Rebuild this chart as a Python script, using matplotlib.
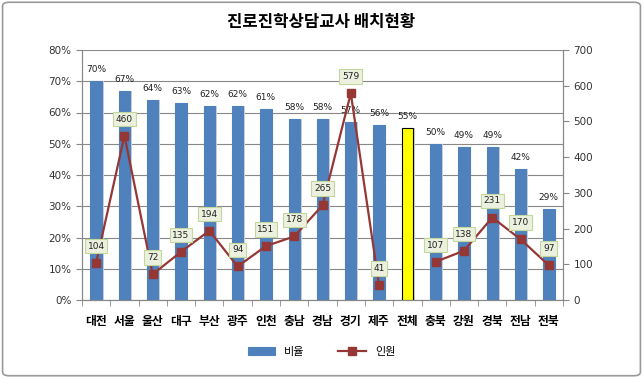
import numpy as np
import matplotlib.pyplot as plt
from matplotlib.patches import FancyBboxPatch

plt.rcParams['font.family'] = ['Noto Sans CJK KR', 'DejaVu Sans']

# dati
regioni = ['대전', '서울', '울산', '대구', '부산', '광주', '인천', '충남', '경남',
           '경기', '제주', '전체', '충북', '강원', '경북', '전남', '전북']
비율 = [70, 67, 64, 63, 62, 62, 61, 58, 58, 57, 56, 55, 50, 49, 49, 42, 29]
인원 = [104, 460, 72, 135, 194, 94, 151, 178, 265, 579, 41, np.nan, 107, 138, 231, 170, 97]

fig = plt.figure(figsize=(6.43, 3.78), dpi=100)
ax = fig.add_axes([82 / 643, 78 / 378, 481 / 643, 250 / 378])
ax2 = ax.twinx()

x = np.arange(len(regioni))
colori = ['#FFFF00' if r == '전체' else '#4F81BD' for r in regioni]
bordi = ['#000000' if r == '전체' else '#4F81BD' for r in regioni]

# ombra delle barre
ax.bar(x + 0.06, 비율, width=0.40, color='#CDD2DA', zorder=2)
ax.bar(x, 비율, width=0.40, color=colori, edgecolor=bordi, linewidth=0.8, zorder=3, label='비율')
for xi, v in zip(x, 비율):
    ax.text(xi, v + 2.2, f'{v}%', ha='center', va='bottom', fontsize=6.5, color='#222222',
            family=['DejaVu Sans'], zorder=6)

ax.set_ylim(0, 80)
ax.set_yticks(np.arange(0, 81, 10))
ax.set_yticklabels([f'{v}%' for v in range(0, 81, 10)], fontsize=7.5, family=['DejaVu Sans'])
ax.set_xlim(-0.5, len(regioni) - 0.5)
ax.set_xticks(x)
ax.set_xticklabels(regioni, fontsize=8.5, fontweight='bold')
ax.set_xticks(np.arange(-0.5, len(regioni)), minor=True)
ax.tick_params(axis='x', which='major', length=0, pad=11)
ax.tick_params(axis='x', which='minor', length=4, color='#888888')
ax.tick_params(axis='y', length=4, color='#888888', labelcolor='#333333')
ax.grid(axis='y', color='#888888', linewidth=0.8, zorder=0)
ax.set_axisbelow(True)
ax.spines['top'].set_visible(False)
for s in ['left', 'right', 'bottom']:
    ax.spines[s].set_color('#888888')

ax2.plot(x, 인원, color='#953735', linewidth=1.6, marker='s', markersize=6,
         markerfacecolor='#953735', zorder=5, label='인원')
for xi, v in zip(x, 인원):
    if np.isnan(v):
        continue
    ax2.annotate(f'{int(v)}', (xi, v), xytext=(0, 12), textcoords='offset points',
                 ha='center', va='center', fontsize=6.5, family=['DejaVu Sans'], color='#222222',
                 bbox=dict(boxstyle='square,pad=0.3', fc='#EBF1DE', ec='#C3D69B', lw=0.8), zorder=7)
ax2.set_ylim(0, 700)
ax2.set_yticks(np.arange(0, 701, 100))
ax2.set_yticklabels([str(v) for v in range(0, 701, 100)], fontsize=7.5, family=['DejaVu Sans'])
ax2.tick_params(axis='y', length=4, color='#888888', labelcolor='#333333')
ax2.spines['top'].set_visible(False)
for s in ['left', 'right', 'bottom']:
    ax2.spines[s].set_color('#888888')

fig.text(0.5, 1 - 22 / 378, '진로진학상담교사 배치현황', ha='center', va='center',
         fontsize=12, fontweight='bold')

h1, l1 = ax.get_legend_handles_labels()
h2, l2 = ax2.get_legend_handles_labels()
fig.legend(h1 + h2, l1 + l2, loc='center', bbox_to_anchor=(0.5, 1 - 352 / 378),
           ncol=2, frameon=False, fontsize=8, handlelength=2.5, columnspacing=3)

# bordo esterno
fig.patches.append(FancyBboxPatch((0.004, 0.006), 0.992, 0.988, boxstyle='round,pad=0,rounding_size=0.01',
                                  transform=fig.transFigure, fill=False, ec='#999999', lw=1.2))

fig.savefig('out.png', dpi=100)
